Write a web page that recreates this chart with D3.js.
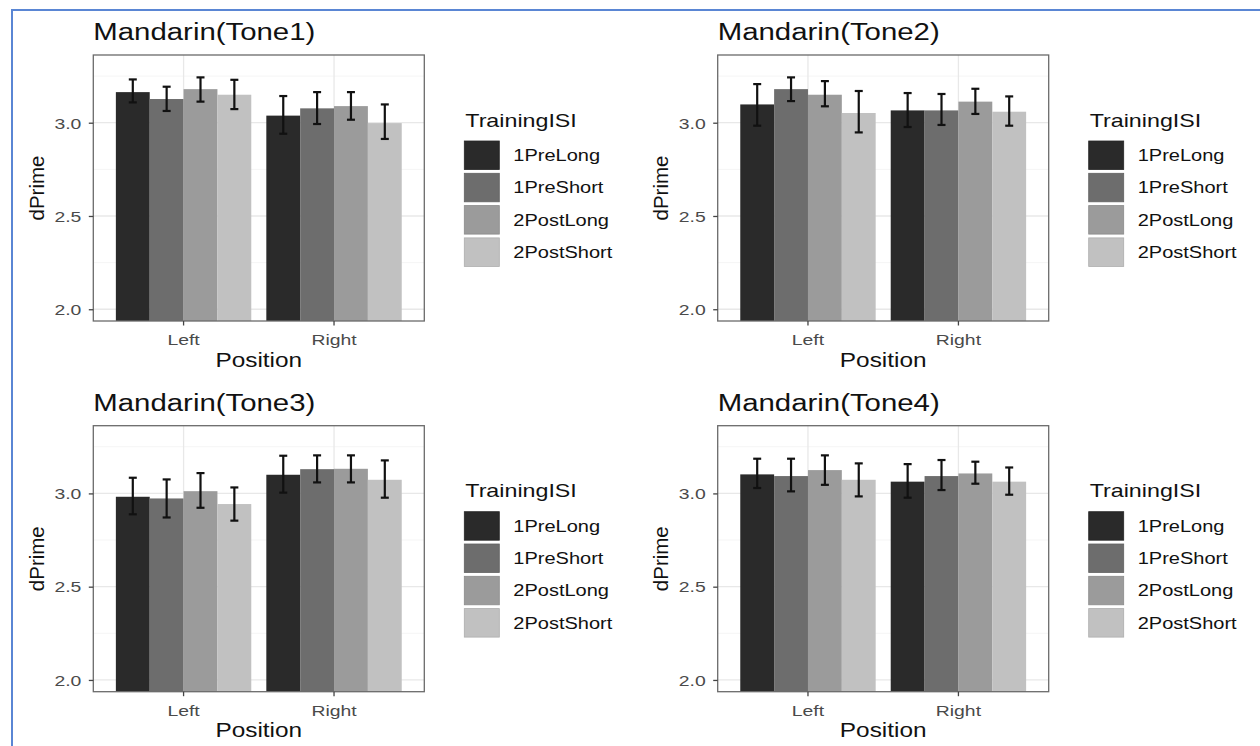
<!DOCTYPE html>
<html>
<head>
<meta charset="utf-8">
<script src="https://cdn.jsdelivr.net/npm/d3@7"></script>
<style>
  html, body { margin: 0; padding: 0; background: #fff; }
  svg { display: block; }
  text { font-family: "Liberation Sans", Arial, Helvetica, sans-serif; }
</style>
</head>
<body>
<svg id="chart" width="1260" height="746"></svg>
<script>
// ---------------- data ----------------
const positions = ["Left", "Right"];
const trainingISI = ["1PreLong", "1PreShort", "2PostLong", "2PostShort"];
const fillColors = ["#2a2a2a", "#6d6d6d", "#9b9b9b", "#c1c1c1"];
const yTicks = [2.0, 2.5, 3.0];
const yMinorTicks = [2.25, 2.75, 3.25];
const titles = ["Mandarin(Tone1)", "Mandarin(Tone2)", "Mandarin(Tone3)", "Mandarin(Tone4)"];

// means, upper and lower error-bar ends (Left then Right, each 4 ISI levels)
const tone1LeftMean  = [3.164, 3.127, 3.180, 3.150];
const tone1LeftHigh  = [3.232, 3.193, 3.243, 3.230];
const tone1LeftLow   = [3.109, 3.063, 3.113, 3.073];
const tone1RightMean = [3.038, 3.077, 3.089, 2.998];
const tone1RightHigh = [3.143, 3.164, 3.164, 3.098];
const tone1RightLow  = [2.941, 2.993, 3.016, 2.913];

const tone2LeftMean  = [3.098, 3.180, 3.150, 3.052];
const tone2LeftHigh  = [3.207, 3.243, 3.223, 3.170];
const tone2LeftLow   = [2.984, 3.116, 3.088, 2.948];
const tone2RightMean = [3.066, 3.066, 3.113, 3.059];
const tone2RightHigh = [3.159, 3.154, 3.182, 3.141];
const tone2RightLow  = [2.977, 2.988, 3.047, 2.984];

const tone3LeftMean  = [2.982, 2.973, 3.012, 2.943];
const tone3LeftHigh  = [3.084, 3.075, 3.109, 3.032];
const tone3LeftLow   = [2.888, 2.871, 2.923, 2.854];
const tone3RightMean = [3.100, 3.130, 3.132, 3.073];
const tone3RightHigh = [3.202, 3.204, 3.204, 3.177];
const tone3RightLow  = [3.004, 3.059, 3.059, 2.977];

const tone4LeftMean  = [3.102, 3.093, 3.125, 3.073];
const tone4LeftHigh  = [3.186, 3.186, 3.204, 3.161];
const tone4LeftLow   = [3.029, 3.011, 3.046, 2.984];
const tone4RightMean = [3.063, 3.093, 3.107, 3.063];
const tone4RightHigh = [3.157, 3.179, 3.170, 3.139];
const tone4RightLow  = [2.977, 3.018, 3.052, 2.993];

const toneData = [
  {Left: [tone1LeftMean, tone1LeftHigh, tone1LeftLow], Right: [tone1RightMean, tone1RightHigh, tone1RightLow]},
  {Left: [tone2LeftMean, tone2LeftHigh, tone2LeftLow], Right: [tone2RightMean, tone2RightHigh, tone2RightLow]},
  {Left: [tone3LeftMean, tone3LeftHigh, tone3LeftLow], Right: [tone3RightMean, tone3RightHigh, tone3RightLow]},
  {Left: [tone4LeftMean, tone4LeftHigh, tone4LeftLow], Right: [tone4RightMean, tone4RightHigh, tone4RightLow]}
];

// ---------------- layout ----------------
const SX = 1.25; // horizontal stretch of the reference's text
const svg = d3.select("#chart");

// blue frame
svg.append("path")
  .attr("d", "M12,746 V10 H1260")
  .attr("fill", "none")
  .attr("stroke", "#5a86d4")
  .attr("stroke-width", 2);

const colX = [93.3, 717.7];
const rowY = [55, 425.7];
const PW = 331, PH = 266;

const color = d3.scaleOrdinal().domain(trainingISI).range(fillColors);

function stretchedText(g, x, y, str, size, opts = {}) {
  const sx = opts.noStretch ? 1 : SX;
  const t = g.append("text")
    .attr("transform", `translate(${x},${y}) scale(${sx},1)` + (opts.rotate ? ` rotate(${opts.rotate})` : ""))
    .attr("font-size", size)
    .attr("fill", opts.fill || "#000")
    .attr("text-anchor", opts.anchor || "start")
    .text(str);
  if (opts.baseline) t.attr("dominant-baseline", opts.baseline);
  return t;
}

toneData.forEach((td, i) => {
  const x0 = colX[i % 2], y0 = rowY[Math.floor(i / 2)];
  const g = svg.append("g").attr("transform", `translate(${x0},${y0})`);

  const x = d3.scaleBand().domain(positions).range([0, PW]).paddingInner(0.1).paddingOuter(0.15);
  const xSub = d3.scaleBand().domain(trainingISI).range([0, x.bandwidth()]).padding(0);
  const y = d3.scaleLinear().domain([1.937, 3.363]).range([PH, 0]);

  // grid
  g.append("g").selectAll("line.minor").data(yMinorTicks).join("line")
    .attr("x1", 0).attr("x2", PW).attr("y1", d => y(d)).attr("y2", d => y(d))
    .attr("stroke", "#f3f3f3").attr("stroke-width", 0.8);
  g.append("g").selectAll("line.major").data(yTicks).join("line")
    .attr("x1", 0).attr("x2", PW).attr("y1", d => y(d)).attr("y2", d => y(d))
    .attr("stroke", "#e8e8e8").attr("stroke-width", 1.3);
  g.append("g").selectAll("line.vx").data(positions).join("line")
    .attr("x1", d => x(d) + x.bandwidth() / 2).attr("x2", d => x(d) + x.bandwidth() / 2)
    .attr("y1", 0).attr("y2", PH)
    .attr("stroke", "#e8e8e8").attr("stroke-width", 1.3);

  // bars
  const rows = [];
  positions.forEach(p => {
    trainingISI.forEach((s, k) => {
      rows.push({pos: p, isi: s, mean: td[p][0][k], hi: td[p][1][k], lo: td[p][2][k]});
    });
  });
  g.append("g").selectAll("rect").data(rows).join("rect")
    .attr("x", d => x(d.pos) + xSub(d.isi))
    .attr("width", xSub.bandwidth())
    .attr("y", d => y(d.mean))
    .attr("height", d => PH - y(d.mean))
    .attr("fill", d => color(d.isi));

  // error bars
  const cap = 4;
  const eb = g.append("g").attr("stroke", "#111").attr("stroke-width", 2.2);
  rows.forEach(d => {
    const cx = x(d.pos) + xSub(d.isi) + xSub.bandwidth() / 2;
    eb.append("line").attr("x1", cx).attr("x2", cx).attr("y1", y(d.hi)).attr("y2", y(d.lo));
    eb.append("line").attr("x1", cx - cap).attr("x2", cx + cap).attr("y1", y(d.hi)).attr("y2", y(d.hi));
    eb.append("line").attr("x1", cx - cap).attr("x2", cx + cap).attr("y1", y(d.lo)).attr("y2", y(d.lo));
  });

  // panel border
  g.append("rect").attr("x", 0).attr("y", 0).attr("width", PW).attr("height", PH)
    .attr("fill", "none").attr("stroke", "#6a6a6a").attr("stroke-width", 1.3);

  // axes
  const yAxis = g.append("g").call(d3.axisLeft(y).tickValues(yTicks).tickFormat(d3.format(".1f")).tickSize(4.5).tickPadding(0));
  yAxis.select(".domain").remove();
  yAxis.selectAll(".tick line").attr("stroke", "#444").attr("stroke-width", 1.3);
  yAxis.selectAll(".tick text")
    .attr("x", null).attr("dy", null)
    .attr("transform", `translate(-12,0) scale(${SX},1)`)
    .attr("dominant-baseline", "central")
    .attr("font-size", 15.5).attr("fill", "#4a4a4a")
    .attr("font-family", "'Liberation Sans', Arial, sans-serif");

  const xAxis = g.append("g").attr("transform", `translate(0,${PH})`)
    .call(d3.axisBottom(x).tickSize(4.5).tickPadding(0));
  xAxis.select(".domain").remove();
  xAxis.selectAll(".tick line").attr("stroke", "#444").attr("stroke-width", 1.3);
  xAxis.selectAll(".tick text")
    .attr("y", null).attr("dy", null)
    .attr("transform", `translate(0,24) scale(${SX},1)`)
    .attr("font-size", 15.5).attr("fill", "#4a4a4a")
    .attr("font-family", "'Liberation Sans', Arial, sans-serif");

  // titles
  stretchedText(g, 0, -15, titles[i], 23.5, {fill: "#111"});
  stretchedText(g, PW / 2, 311.7, "Position", 19.5, {anchor: "middle", fill: "#111"});
  stretchedText(g, -57.3, PH / 2, "dPrime", 20.5, {anchor: "middle", fill: "#111", rotate: -90, baseline: "central", noStretch: true});

  // legend
  const lg = g.append("g").attr("transform", `translate(${PW + 40},0)`);
  stretchedText(lg, 1, 71.7, "TrainingISI", 18.6, {fill: "#111"});
  trainingISI.forEach((s, k) => {
    const ky = 86 + k * 32.3;
    lg.append("rect").attr("x", 0).attr("y", ky).attr("width", 35).attr("height", 28.5)
      .attr("fill", color(s)).attr("stroke", d3.color(color(s)).darker(0.3)).attr("stroke-width", 0.8);
    stretchedText(lg, 49, ky + 14.6, s, 16, {fill: "#111", baseline: "central"});
  });
});
</script>
</body>
</html>
